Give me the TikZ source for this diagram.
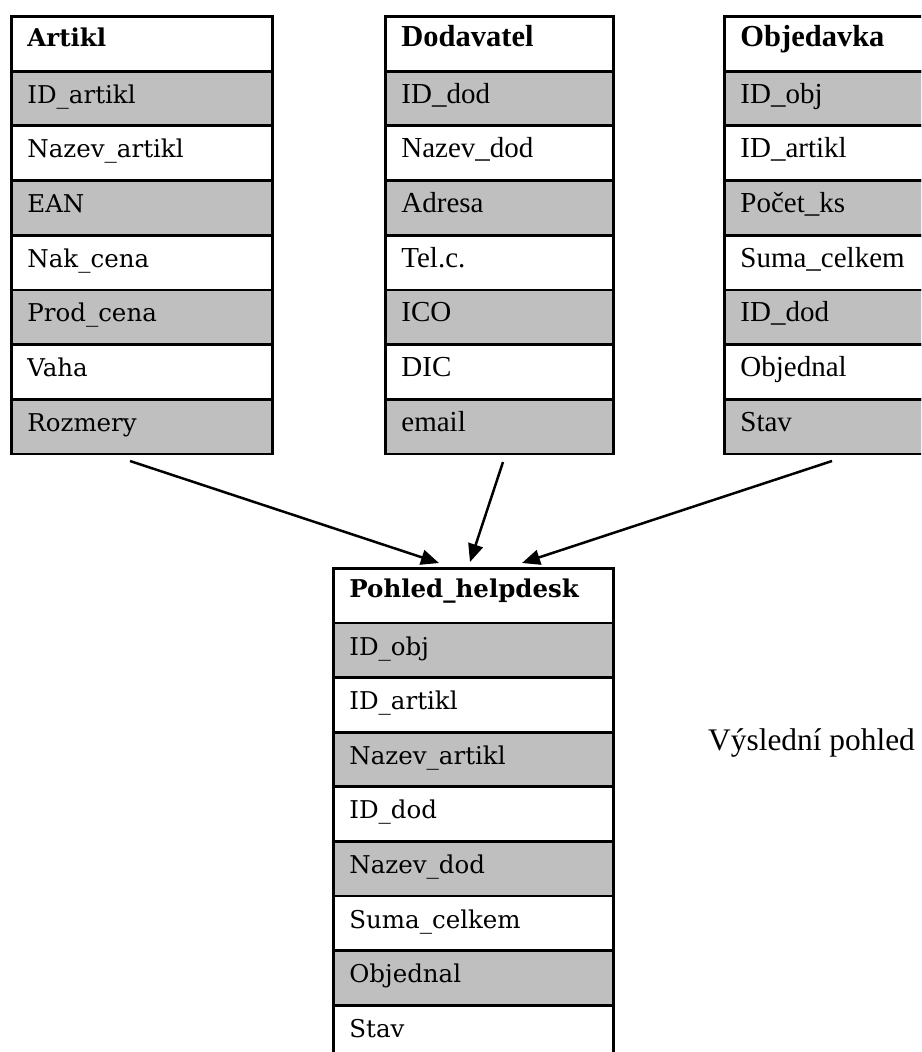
\documentclass[tikz,border=0pt]{standalone}
\usepackage{fontspec}
\setmainfont{Liberation Serif}
\newfontfamily\cambria{DejaVu Serif}
\usetikzlibrary{arrows.meta}
\definecolor{cellgray}{RGB}{191,191,191}
\tikzset{
  cell/.style={draw=black, line width=2.8pt, anchor=north west, inner xsep=16pt, inner ysep=0pt,
    text height=32pt, text depth=22.7pt, align=left},
  hdr/.style={cell, fill=white, text height=30pt, text depth=24.7pt},
  gc/.style={cell, fill=cellgray},
  wc/.style={cell, fill=white},
  camfont/.style={font=\cambria\fontsize{24.5}{29}\selectfont},
  camhfont/.style={font=\cambria\bfseries\fontsize{24.5}{29}\selectfont},
  timfont/.style={font=\fontsize{29}{34}\selectfont},
  timhfont/.style={font=\bfseries\fontsize{30.5}{35}\selectfont},
  conn/.style={line width=2.5pt, -{Triangle[length=18pt,width=15pt]}},
}
\begin{document}
\begin{tikzpicture}[x=1pt,y=-1pt]
\path[use as bounding box] (0,0) rectangle (921,1052);
\clip (0,0) rectangle (921,1052);

% Artikl
\node[hdr, camhfont, text width=229pt] (art0) at (10,15) {Artikl};
\foreach \t/\s [count=\i] in {ID\_artikl/gc, Nazev\_artikl/wc, EAN/gc, Nak\_cena/wc, Prod\_cena/gc, Vaha/wc, Rozmery/gc}
  \node[\s, camfont, text width=229pt] (art\i) at (10,{15+\i*54.7}) {\t};

% Dodavatel
\node[hdr, timhfont, text width=196pt] (dod0) at (384,15) {Dodavatel};
\foreach \t/\s [count=\i] in {ID\_dod/gc, Nazev\_dod/wc, Adresa/gc, Tel.c./wc, ICO/gc, DIC/wc, email/gc}
  \node[\s, timfont, text width=196pt] (dod\i) at (384,{15+\i*54.7}) {\t};

% Objedavka
\node[hdr, timhfont, text width=190pt] (obj0) at (723,15) {Objedavka};
\foreach \t/\s [count=\i] in {ID\_obj/gc, ID\_artikl/wc, Počet\_ks/gc, Suma\_celkem/wc, ID\_dod/gc, Objednal/wc, Stav/gc}
  \node[\s, timfont, text width=190pt] (obj\i) at (723,{15+\i*54.7}) {\t};

% Pohled_helpdesk
\node[hdr, camhfont, text width=248pt, text height=29pt, text depth=25.6pt] (poh0) at (332,567) {Pohled\_helpdesk};
\foreach \t/\s [count=\i] in {ID\_obj/gc, ID\_artikl/wc, Nazev\_artikl/gc, ID\_dod/wc, Nazev\_dod/gc, Suma\_celkem/wc, Objednal/gc, Stav/wc}
  \node[\s, camfont, text width=248pt] (poh\i) at (332,{567+\i*54.6}) {\t};

% label
\node[anchor=base west, inner sep=0pt, font=\fontsize{31.4}{36}\selectfont] (lbl) at (708,750) {Výslední pohled};

% connectors
\coordinate (s1) at (130,461);
\coordinate (e1) at (439,563);
\coordinate (s2) at (503,462);
\coordinate (e2) at (470,562);
\coordinate (s3) at (832,461);
\coordinate (e3) at (522,563);
\draw[conn] (s1) -- (e1);
\draw[conn] (s2) -- (e2);
\draw[conn] (s3) -- (e3);
\end{tikzpicture}
\end{document}
